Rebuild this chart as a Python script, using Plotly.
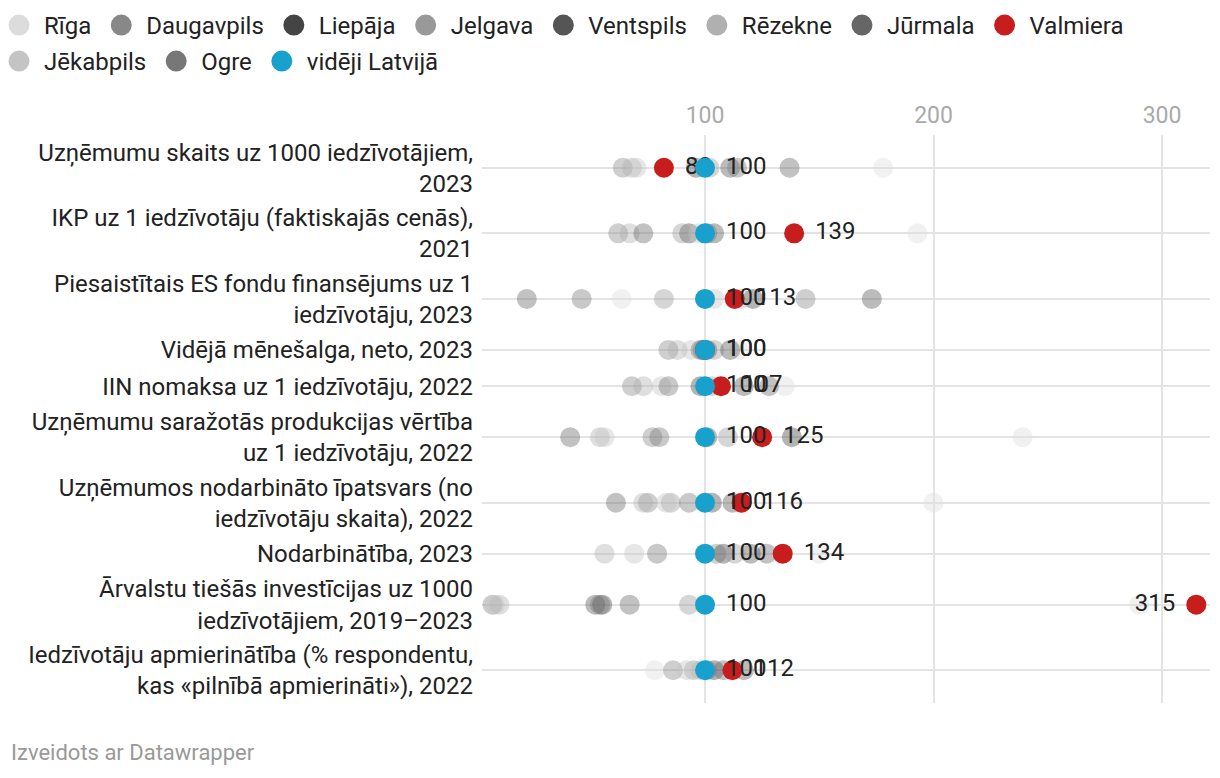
import plotly.graph_objects as go

# ---------------- data ----------------
indicators = [
    "Uzņēmumu skaits uz 1000 iedzīvotājiem,<br>2023",
    "IKP uz 1 iedzīvotāju (faktiskajās cenās),<br>2021",
    "Piesaistītais ES fondu finansējums uz 1<br>iedzīvotāju, 2023",
    "Vidējā mēnešalga, neto, 2023",
    "IIN nomaksa uz 1 iedzīvotāju, 2022",
    "Uzņēmumu saražotās produkcijas vērtība<br>uz 1 iedzīvotāju, 2022",
    "Uzņēmumos nodarbināto īpatsvars (no<br>iedzīvotāju skaita), 2022",
    "Nodarbinātība, 2023",
    "Ārvalstu tiešās investīcijas uz 1000<br>iedzīvotājiem, 2019–2023",
    "Iedzīvotāju apmierinātība (% respondentu,<br>kas «pilnībā apmierināti»), 2022",
]

riga       = [178, 193, 63.5, 115, 135, 239, 200, 150, 290, 78]
daugavpils = [64, 62, 144, 84, 68, 77, 75, 105, 7, 86]
liepaja    = [96, 93, 121, 98, 98, 138, 103, 108, 55, 104]
jelgava    = [102, 90, 82, 104, 103, 110, 85, 113, 93, 95]
ventspils  = [111, 104, 173, 111, 117, 101, 112, 120, 52, 117]
rezekne    = [68, 67, 116, 88, 73, 54, 73, 56, 10, 98]
jurmala    = [137, 73, 22, 101, 128, 41, 61, 127, 67, 108]
jekabpils  = [70, 97, 104, 94, 81, 56, 83, 69, 8, 92]
ogre       = [114, 101, 46, 99, 84, 80, 93, 79, 54, 101]
valmiera   = [82, 139, 113, 100, 107, 125, 116, 134, 315, 112]
videji     = [100, 100, 100, 100, 100, 100, 100, 100, 100, 100]

x_ticks = [100, 200, 300]

# ---------------- styling ----------------
FONT = "Roboto"
TXT = "#222222"
GRID = "#e4e4e4"
W, H = 1220, 778
ML, MR, MT, MB = 482, 10, 135, 75
PW, PH = W - ML - MR, H - MT - MB

gray_series = [
    ("Rīga", riga, "#dcdcdc"),
    ("Daugavpils", daugavpils, "#888888"),
    ("Liepāja", liepaja, "#444444"),
    ("Jelgava", jelgava, "#999999"),
    ("Ventspils", ventspils, "#555555"),
    ("Rēzekne", rezekne, "#b0b0b0"),
    ("Jūrmala", jurmala, "#666666"),
    ("Jēkabpils", jekabpils, "#c4c4c4"),
    ("Ogre", ogre, "#777777"),
]
RED = "#c71e1d"
BLUE = "#18a1cd"

legend_row1 = [
    ("Rīga", "#dcdcdc"), ("Daugavpils", "#888888"), ("Liepāja", "#444444"),
    ("Jelgava", "#999999"), ("Ventspils", "#555555"), ("Rēzekne", "#b0b0b0"),
    ("Jūrmala", "#666666"), ("Valmiera", RED),
]
legend_row2 = [("Jēkabpils", "#c4c4c4"), ("Ogre", "#777777"), ("vidēji Latvijā", BLUE)]

# row positions derived from the number of label lines
row_h = {1: 36.3, 2: 65.5}
centers = []
acc = 0.0
for lab in indicators:
    h = row_h[lab.count("<br>") + 1]
    centers.append(acc + h / 2)
    acc += h
total = acc

fig = go.Figure()

# legend-only dummy traces (solid colours), two legend rows
for lg, items in (("legend", legend_row1), ("legend2", legend_row2)):
    for i, (name, col) in enumerate(items):
        fig.add_trace(go.Scatter(
            x=[None], y=[None], mode="markers", name=name, legend=lg,
            marker=dict(size=16, color=col, line=dict(width=5, color=col)),
            showlegend=True, legendrank=i + 1, hoverinfo="skip",
        ))

for name, vals, col in gray_series:
    fig.add_trace(go.Scatter(
        x=vals, y=centers, mode="markers", name=name, showlegend=False,
        marker=dict(size=20, color=col, opacity=0.4, line=dict(width=0)),
        cliponaxis=False,
    ))


def add_series(vals, col, name, positions):
    # visible dot
    fig.add_trace(go.Scatter(
        x=vals, y=centers, mode="markers", name=name, showlegend=False,
        marker=dict(size=20, color=col, line=dict(width=0)), cliponaxis=False,
    ))
    # value label (transparent wider marker gives the label its offset)
    fig.add_trace(go.Scatter(
        x=vals, y=centers, mode="markers+text", name=name, showlegend=False,
        marker=dict(size=32, color="rgba(0,0,0,0)", line=dict(width=0)),
        text=[f"{v:.0f}" for v in vals], textposition=positions,
        textfont=dict(family=FONT, size=24, color=TXT), cliponaxis=False,
        hoverinfo="skip",
    ))


add_series(valmiera, RED, "Valmiera",
           ["middle left" if v > 300 else "middle right" for v in valmiera])
add_series(videji, BLUE, "vidēji Latvijā", "middle right")

leg_common = dict(
    orientation="h", xref="paper", yref="paper",
    xanchor="left", yanchor="top",
    font=dict(family=FONT, size=24, color=TXT),
    itemsizing="trace", itemwidth=40, bgcolor="rgba(0,0,0,0)",
)
leg_x = -(ML + 6) / PW

fig.update_layout(
    width=W, height=H,
    margin=dict(l=ML, r=MR, t=MT, b=MB, autoexpand=False),
    paper_bgcolor="white", plot_bgcolor="white",
    font=dict(family=FONT, size=22, color=TXT),
    showlegend=True,
    legend=dict(x=leg_x, y=1 + (MT - 3) / PH, **leg_common),
    legend2=dict(x=leg_x, y=1 + (MT - 39) / PH, **leg_common),
    xaxis=dict(
        side="top", range=[2.4, 321], tickvals=x_ticks,
        ticktext=[str(t) for t in x_ticks],
        tickfont=dict(family=FONT, size=23, color="#aaaaaa"),
        showgrid=True, gridcolor=GRID, gridwidth=2,
        zeroline=False, showline=False, ticks="", ticklabelstandoff=6,
    ),
    yaxis=dict(
        range=[total, 0], tickvals=centers, ticktext=indicators,
        tickfont=dict(family=FONT, size=24, color=TXT),
        showgrid=True, gridcolor=GRID, gridwidth=2,
        zeroline=False, showline=False, ticks="", ticklabelstandoff=8,
    ),
    annotations=[dict(
        text="Izveidots ar Datawrapper", xref="paper", yref="paper",
        x=-(ML - 9) / PW, y=-(752 - (H - MB)) / PH, xanchor="left", yanchor="middle",
        showarrow=False, font=dict(family=FONT, size=22, color="#999999"),
    )],
)

fig.write_html("out.html", config={"displayModeBar": False},
               post_script="document.body.style.margin='0';")
